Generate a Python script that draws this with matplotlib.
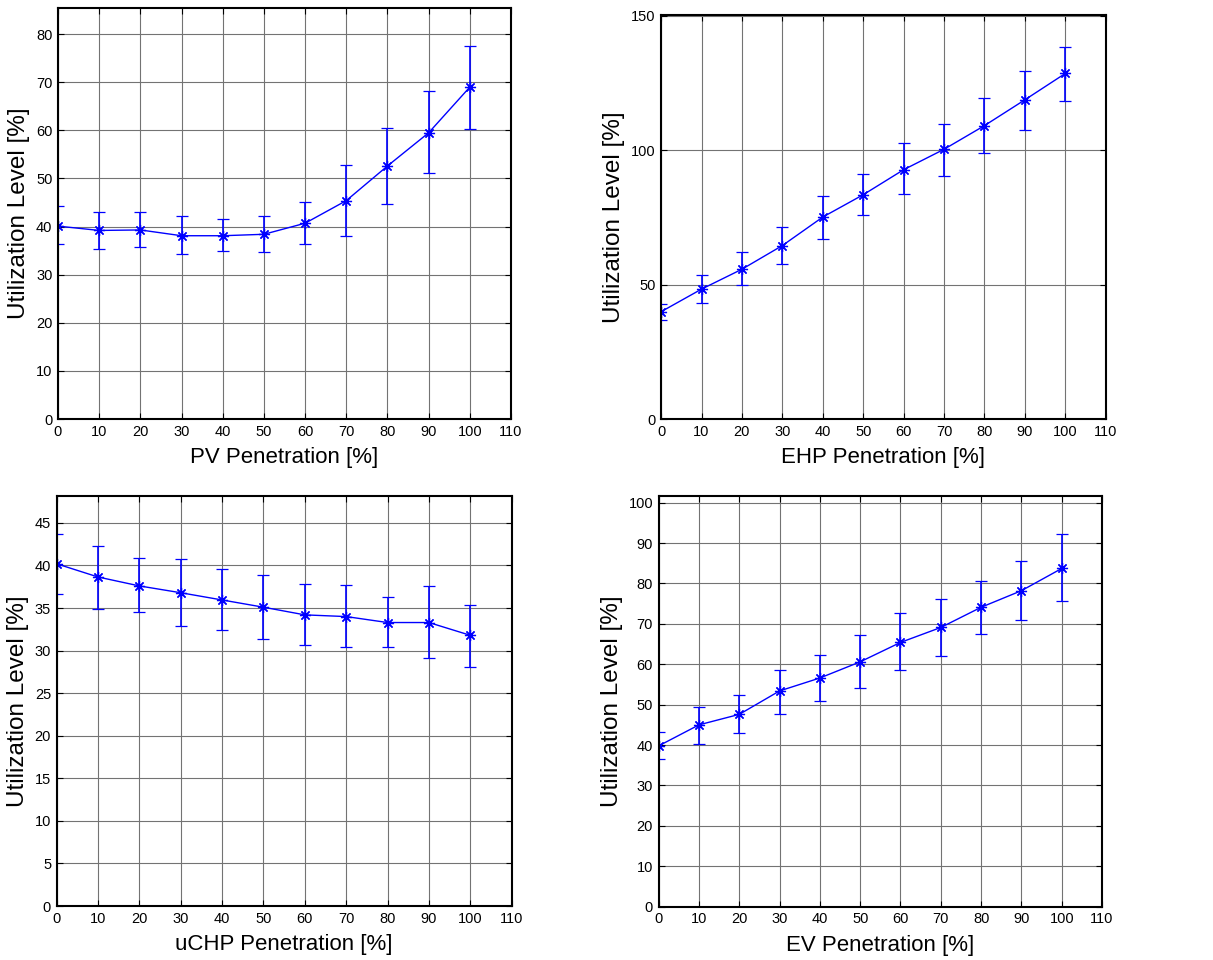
from matplotlib import pyplot as plt
import numpy as np

plt.rcParams['font.family'] = ['Liberation Sans', 'DejaVu Sans']

pen = [0, 10, 20, 30, 40, 50, 60, 70, 80, 90, 100]

# PV
pv_mean = [40.1, 39.2, 39.3, 38.1, 38.1, 38.4, 40.7, 45.4, 52.6, 59.5, 69.0]
pv_low = [36.4, 35.4, 35.7, 34.2, 34.9, 34.7, 36.4, 38.1, 44.6, 51.1, 60.3]
pv_high = [44.2, 43.0, 43.0, 42.1, 41.6, 42.1, 45.1, 52.9, 60.4, 68.1, 77.5]

# EHP
ehp_mean = [39.9, 48.3, 55.7, 64.5, 75.1, 83.4, 92.7, 100.3, 109.1, 118.7, 128.5]
ehp_low = [36.9, 43.0, 49.7, 57.6, 67.0, 75.9, 83.5, 90.5, 99.1, 107.5, 118.3]
ehp_high = [42.9, 53.6, 62.1, 71.5, 83.0, 91.0, 102.6, 109.7, 119.2, 129.3, 138.2]

# uCHP
uchp_mean = [40.2, 38.65, 37.6, 36.8, 35.95, 35.1, 34.2, 34.0, 33.3, 33.3, 31.8]
uchp_low = [36.7, 34.9, 34.5, 32.9, 32.4, 31.4, 30.7, 30.4, 30.4, 29.1, 28.1]
uchp_high = [43.7, 42.3, 40.9, 40.8, 39.6, 38.9, 37.8, 37.7, 36.3, 37.6, 35.4]

# EV
ev_mean = [39.8, 45.0, 47.6, 53.4, 56.6, 60.6, 65.4, 69.1, 74.1, 78.2, 83.7]
ev_low = [36.5, 40.2, 42.9, 47.7, 51.0, 54.2, 58.7, 62.0, 67.6, 70.9, 75.6]
ev_high = [43.2, 49.5, 52.4, 58.7, 62.2, 67.2, 72.6, 76.2, 80.7, 85.6, 92.2]

panels = [
    ([0.0478, 0.5635, 0.3735, 0.428], pv_mean, pv_low, pv_high, 'PV Penetration [%]', 85.4, np.arange(0, 81, 10)),
    ([0.545, 0.5635, 0.3666, 0.4208], ehp_mean, ehp_low, ehp_high, 'EHP Penetration [%]', 150.2, [0, 50, 100, 150]),
    ([0.0467, 0.05625, 0.3751, 0.4274], uchp_mean, uchp_low, uchp_high, 'uCHP Penetration [%]', 48.2, np.arange(0, 46, 5)),
    ([0.543, 0.0555, 0.3655, 0.4281], ev_mean, ev_low, ev_high, 'EV Penetration [%]', 101.7, np.arange(0, 101, 10)),
]

fig = plt.figure(figsize=(12.13, 9.6), dpi=100)

for rect, m, lo, hi, xlab, ytop, yt in panels:
    ax = fig.add_axes(rect)
    m = np.array(m)
    err = [m - np.array(lo), np.array(hi) - m]
    ax.errorbar(pen, m, yerr=err, color='blue', lw=1, elinewidth=1.2, capsize=4,
                capthick=1.2, marker=(8, 2, 0), markersize=8, mew=0.9)
    ax.set_xlim(0, 110)
    ax.set_ylim(0, ytop)
    ax.set_xticks(np.arange(0, 111, 10))
    ax.set_yticks(yt)
    ax.grid(True, color='0.45', lw=0.8)
    ax.set_axisbelow(True)
    ax.tick_params(direction='in', top=True, right=True, labelsize=10.5, length=4, pad=4)
    for s in ax.spines.values():
        s.set_linewidth(1.5)
    ax.set_xlabel(xlab, fontsize=16, labelpad=6)
    ax.set_ylabel('Utilization Level [%]', fontsize=17.5, labelpad=4)

plt.savefig('out.png', dpi=100)
